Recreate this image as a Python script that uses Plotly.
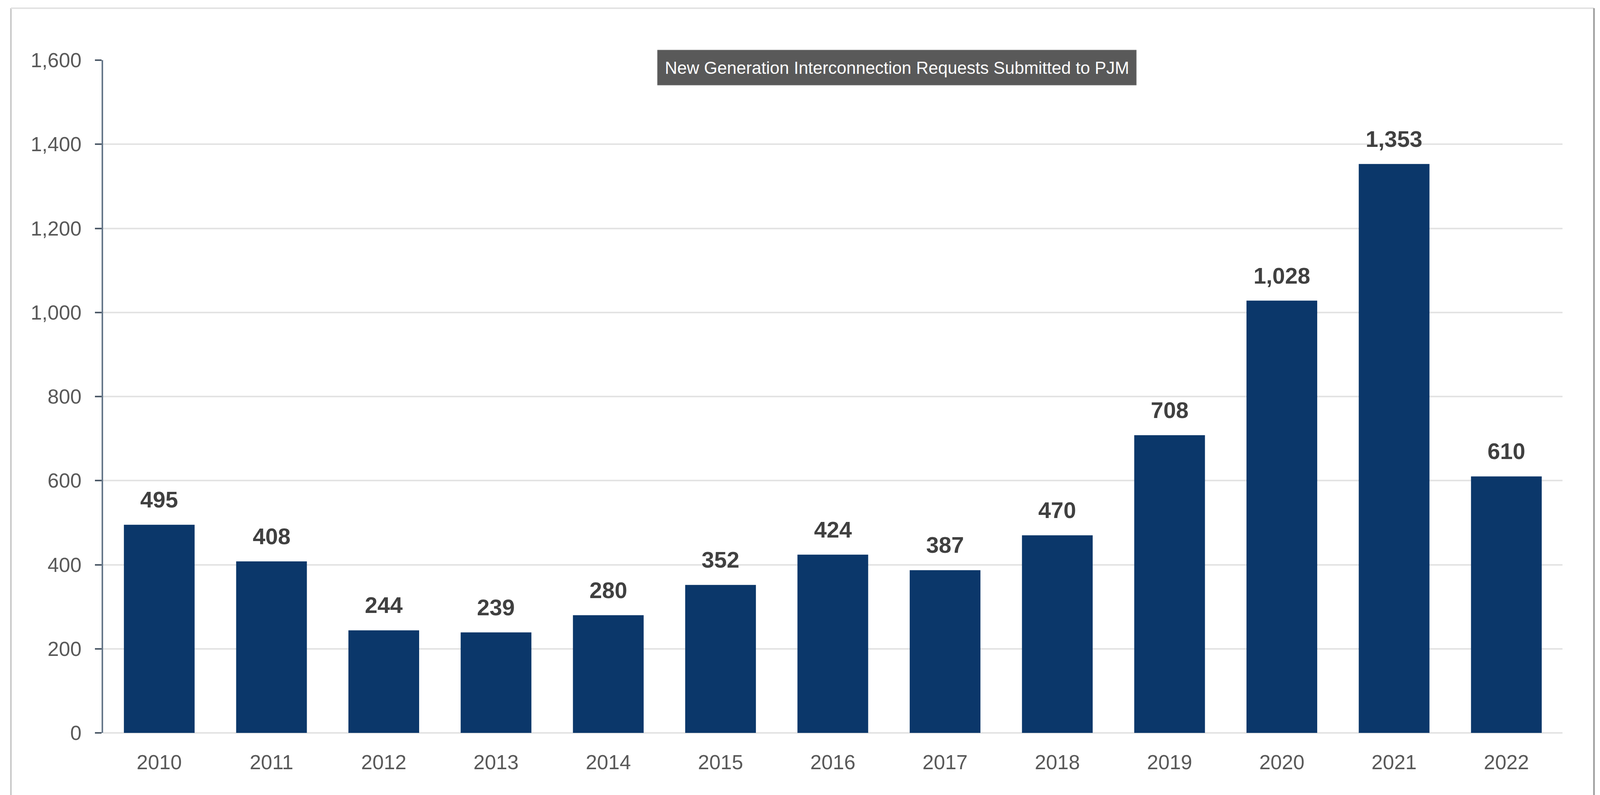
import plotly.graph_objects as go

years = ["2010", "2011", "2012", "2013", "2014", "2015", "2016",
         "2017", "2018", "2019", "2020", "2021", "2022"]
requests = [495, 408, 244, 239, 280, 352, 424, 387, 470, 708, 1028, 1353, 610]
y_ticks = [0, 200, 400, 600, 800, 1000, 1200, 1400, 1600]
title_text = "New Generation Interconnection Requests Submitted to PJM"

# The browser viewport is 4096 px wide; lay the figure out in reference
# proportions (4727 x 2035) scaled horizontally to fit it.
REF_W = 4727
W, H = 4096, 2035
K = W / REF_W
L, R, T, B = round(295 * K), round(120 * K), 146, 167
FONT = "Liberation Sans, Arial, sans-serif"

pw = W - L - R
ph = H - T - B
def px_x(p):  # reference pixel x -> paper
    return (p * K - L) / pw
def px_y(p):  # reference pixel y -> paper
    return (H - B - p) / ph

fig = go.Figure()
fig.add_trace(go.Bar(
    x=years, y=requests,
    marker=dict(color="#0b376a", line=dict(width=0)),
    hoverinfo="x+y",
))

for i, v in enumerate(requests):
    fig.add_annotation(
        x=i, y=v, xref="x", yref="y",
        text=f"<b>{v:,}</b>", showarrow=False,
        yanchor="bottom", yshift=30,
        font=dict(family=FONT, size=58, color="#404040"),
    )

# title box
fig.add_shape(type="rect", xref="paper", yref="paper", layer="above",
              x0=px_x(1933), x1=px_x(3348), y0=px_y(210), y1=px_y(120),
              fillcolor="#595959", line=dict(color="#8a8a8a", width=1))
fig.add_annotation(
    x=(px_x(1933) + px_x(3348)) / 2, y=(px_y(210) + px_y(120)) / 2,
    xref="paper", yref="paper",
    text=title_text, showarrow=False,
    xanchor="center", yanchor="middle",
    font=dict(family=FONT, size=44, color="#ffffff"),
)

# outer frame
fig.add_shape(type="line", xref="paper", yref="paper",
              x0=px_x(23), x1=px_x(23), y0=px_y(13), y1=px_y(2100),
              line=dict(color="#c9c9c9", width=4))
fig.add_shape(type="line", xref="paper", yref="paper",
              x0=px_x(23), x1=px_x(4700), y0=px_y(13), y1=px_y(13),
              line=dict(color="#e2e2e2", width=4))
fig.add_shape(type="line", xref="paper", yref="paper",
              x0=px_x(4700), x1=px_x(4700), y0=px_y(13), y1=px_y(2100),
              line=dict(color="#9a9a9a", width=4))

fig.update_layout(
    width=W, height=H,
    margin=dict(l=L, r=R, t=T, b=B, pad=0),
    paper_bgcolor="#ffffff", plot_bgcolor="#ffffff",
    bargap=0.37,
    showlegend=False,
    font=dict(family=FONT, color="#595959"),
)
fig.update_xaxes(
    type="category", range=[-0.5, len(years) - 0.5],
    showgrid=False, showline=False, ticks="",
    tickfont=dict(family=FONT, size=52, color="#595959"),
    ticklabelstandoff=40,
)
fig.update_yaxes(
    range=[0, 1600], tickvals=y_ticks, tickformat=",d",
    showgrid=True, gridcolor="#e3e3e3", gridwidth=4,
    zeroline=True, zerolinecolor="#e3e3e3", zerolinewidth=4,
    showline=True, linecolor="#66778a", linewidth=4,
    ticks="outside", ticklen=17, tickwidth=4, tickcolor="#4d5a68",
    tickfont=dict(family=FONT, size=52, color="#595959"),
    ticklabelstandoff=24,
)

fig.write_html("out.html")
